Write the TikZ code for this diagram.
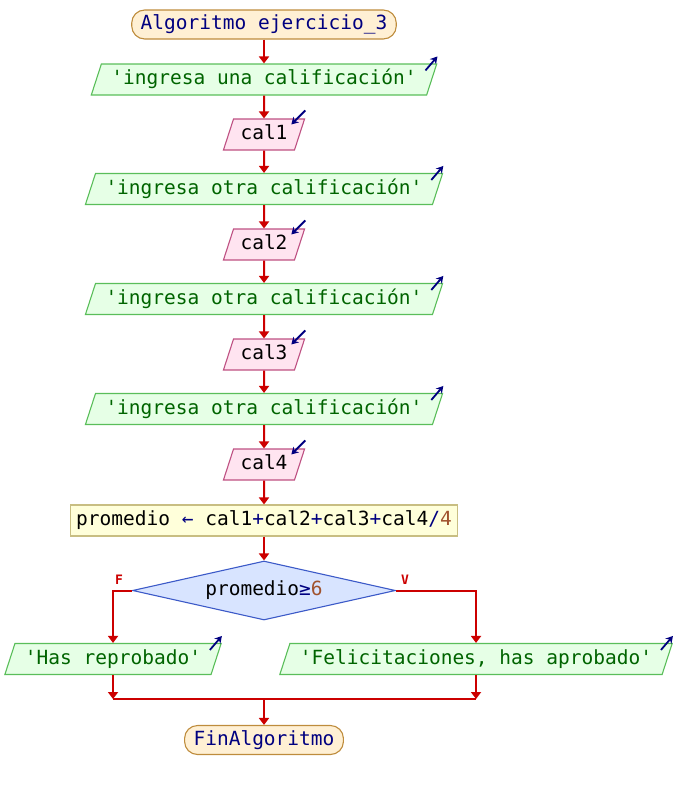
\documentclass[tikz,border=0pt]{standalone}
\usepackage{fontspec}
\setmonofont{DejaVu Sans Mono}
\usetikzlibrary{shapes.geometric,arrows.meta,calc,positioning}
\definecolor{flowred}{RGB}{204,0,0}
\definecolor{kwblue}{RGB}{0,0,128}
\definecolor{strgreen}{RGB}{0,100,0}
\definecolor{numbrown}{RGB}{160,82,45}
\definecolor{termfill}{RGB}{255,240,212}
\definecolor{termline}{RGB}{190,140,60}
\definecolor{outfill}{RGB}{230,255,230}
\definecolor{outline}{RGB}{90,190,90}
\definecolor{infill}{RGB}{255,228,240}
\definecolor{inline}{RGB}{190,80,130}
\definecolor{asgfill}{RGB}{255,255,218}
\definecolor{asgline}{RGB}{200,190,130}
\definecolor{condfill}{RGB}{216,228,255}
\definecolor{condline}{RGB}{60,90,200}
\tikzset{
    flow-text/.style = {font=\ttfamily\fontsize{19.5}{22}\selectfont, text height=14pt, text depth=4pt, inner ysep=6.5pt, line width=1.1pt},
    term-box/.style = {flow-text, draw=termline, fill=termfill, rectangle, rounded corners=13pt, inner xsep=9pt, inner ysep=5.5pt, text=kwblue},
    out-box/.style = {flow-text, draw=outline, fill=outfill, trapezium, trapezium left angle=72, trapezium right angle=108, inner xsep=10pt, text=strgreen},
    in-box/.style = {flow-text, draw=inline, fill=infill, trapezium, trapezium left angle=72, trapezium right angle=108, inner xsep=7pt, text=black},
    asg-box/.style = {flow-text, draw=asgline, fill=asgfill, rectangle, inner xsep=6pt},
    cond-box/.style = {flow-text, draw=condline, fill=condfill, diamond, aspect=4.46, minimum width=263pt, minimum height=59pt, inner sep=0pt},
    flow/.style = {draw=flowred, line width=2pt, -{Triangle[width=10pt,length=7pt]}},
    flow-line/.style = {draw=flowred, line width=2pt},
    out-mark/.style = {draw=kwblue, line width=1.8pt, -{Stealth[width=8pt,length=7pt]}},
    branch-label/.style = {text=flowred, font=\ttfamily\bfseries\fontsize{13}{13}\selectfont, inner sep=0pt},
}
\begin{document}
\begin{tikzpicture}[x=1pt, y=-1pt]
\useasboundingbox (0,0) rectangle (678,790);

\node[term-box] (start) at (264,24.5) {Algoritmo ejercicio\_3};
\node[out-box] (msg1) at (264,79.5) {'ingresa una calificación'};
\node[in-box] (cal1) at (264,134.5) {cal1};
\node[out-box] (msg2) at (264,189) {'ingresa otra calificación'};
\node[in-box] (cal2) at (264,244.5) {cal2};
\node[out-box] (msg3) at (264,299) {'ingresa otra calificación'};
\node[in-box] (cal3) at (264,354.5) {cal3};
\node[out-box] (msg4) at (264,409) {'ingresa otra calificación'};
\node[in-box] (cal4) at (264,464.5) {cal4};
\node[asg-box] (avg) at (264,520.5) {promedio {\color{kwblue}←} cal1{\color{kwblue}+}cal2{\color{kwblue}+}cal3{\color{kwblue}+}cal4{\color{kwblue}/}{\color{numbrown}4}};
\node[cond-box] (test) at (264,590.5) {promedio{\color{kwblue}≥}{\color{numbrown}6}};
\node[out-box] (fail) at (113,659) {'Has reprobado'};
\node[out-box] (pass) at (476,659) {'Felicitaciones, has aprobado'};
\node[term-box] (stop) at (264,740) {FinAlgoritmo};

\node[branch-label] (lblF) at ([xshift=-13pt,yshift=11pt]test.west) {F};
\node[branch-label] (lblV) at ([xshift=9pt,yshift=11pt]test.east) {V};

% main line
\draw[flow] (start) -- (msg1);
\draw[flow] (msg1) -- (cal1);
\draw[flow] (cal1) -- (msg2);
\draw[flow] (msg2) -- (cal2);
\draw[flow] (cal2) -- (msg3);
\draw[flow] (msg3) -- (cal3);
\draw[flow] (cal3) -- (msg4);
\draw[flow] (msg4) -- (cal4);
\draw[flow] (cal4) -- (avg);
\draw[flow] (avg) -- (test);

% branches
\draw[flow] (test.west) -| (fail.north);
\draw[flow] (test.east) -| (pass.north);
\coordinate (join) at (264,699);
\draw[flow] (fail.south) -- (fail.south |- join);
\draw[flow] (pass.south) -- (pass.south |- join);
\draw[flow-line] (fail.south |- join) -- (pass.south |- join);
\draw[flow] (join) -- (stop);

% io marks
\foreach \n in {msg1,msg2,msg3,msg4,fail,pass}
    \draw[out-mark] ($(\n.top right corner)+(-12,7)$) -- ++(12,-14);
\foreach \n in {cal1,cal2,cal3,cal4}
    \draw[out-mark] ($(\n.top right corner)+(0,-8)$) -- ++(-14,14);
\end{tikzpicture}
\end{document}
